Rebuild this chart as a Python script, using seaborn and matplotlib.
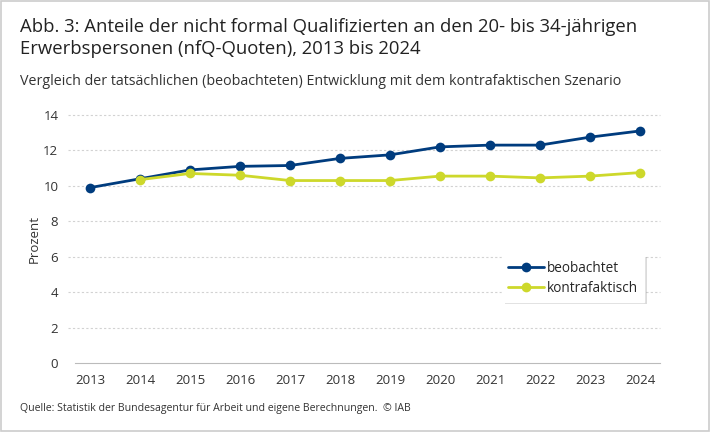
import matplotlib
matplotlib.use("Agg")
import matplotlib.pyplot as plt
import matplotlib.patheffects as pe
import seaborn as sns
import pandas as pd

# values
years = [2013, 2014, 2015, 2016, 2017, 2018, 2019, 2020, 2021, 2022, 2023, 2024]
beobachtet = [9.9, 10.4, 10.9, 11.1, 11.15, 11.55, 11.75, 12.2, 12.3, 12.3, 12.75, 13.1]
kontrafaktisch = [None, 10.35, 10.7, 10.6, 10.3, 10.3, 10.3, 10.55, 10.55, 10.45, 10.55, 10.75]
series_names = ["beobachtet", "kontrafaktisch"]
yticks = [0, 2, 4, 6, 8, 10, 12, 14]

df = pd.DataFrame({"Jahr": years * 2,
                   "Wert": beobachtet + kontrafaktisch,
                   "Reihe": [series_names[0]] * len(years) + [series_names[1]] * len(years)})
df = df.dropna()

sns.set_style("white")
plt.rcParams["font.family"] = ["Open Sans", "DejaVu Sans"]

fig = plt.figure(figsize=(7.1, 4.32), dpi=100)
ax = fig.add_axes([0.1056, 0.1597, 0.824, 0.5741])

sns.lineplot(data=df, x="Jahr", y="Wert", hue="Reihe", marker="o",
             palette={"beobachtet": "#003c7e", "kontrafaktisch": "#cdd82b"},
             linewidth=2, markersize=7, markeredgewidth=0, ax=ax)

ax.set_xlim(2012.7, 2024.4)
ax.set_ylim(0, 14)
ax.set_xticks(years)
ax.set_yticks(yticks)
ax.tick_params(axis="both", length=0, labelsize=9.5, colors="#333333")
ax.tick_params(axis="x", pad=8)
ax.tick_params(axis="y", pad=12)
for y in yticks[1:]:
    ax.axhline(y, xmin=-0.012, color="#d2d2d2", lw=0.8, ls=(0, (2, 2)), zorder=0, clip_on=False)
for s in ["top", "right", "left"]:
    ax.spines[s].set_visible(False)
ax.spines["bottom"].set_color("#bbbbbb")
ax.set_xlabel("")
ax.set_ylabel("Prozent", fontsize=9.5, color="#333333", labelpad=2)

leg = ax.legend(loc="lower right", bbox_to_anchor=(0.985, 0.22), fontsize=9.8,
                frameon=True, fancybox=False, framealpha=1, handlelength=2.6,
                handletextpad=0.25, borderpad=0.45, labelspacing=0.35)
leg.get_frame().set_edgecolor("white")
leg.get_frame().set_facecolor("white")
leg.get_frame().set_path_effects([pe.SimplePatchShadow(offset=(2, -2), alpha=0.2), pe.Normal()])

fig.text(0.028, 0.958, "Abb. 3: Anteile der nicht formal Qualifizierten an den 20- bis 34-jährigen\n"
         "Erwerbspersonen (nfQ-Quoten), 2013 bis 2024",
         fontsize=13.3, color="#222222", va="top", linespacing=1.25)
fig.text(0.028, 0.829, "Vergleich der tatsächlichen (beobachteten) Entwicklung mit dem kontrafaktischen Szenario",
         fontsize=10.3, color="#333333", va="top")
fig.text(0.028, 0.055, "Quelle: Statistik der Bundesagentur für Arbeit und eigene Berechnungen.  © IAB",
         fontsize=7.6, color="#333333", va="center")

fig.patches.append(plt.Rectangle((0.002, 0.003), 0.996, 0.994, transform=fig.transFigure,
                                 fill=False, edgecolor="#cccccc", lw=1.2))

fig.savefig("out.png", dpi=100)
